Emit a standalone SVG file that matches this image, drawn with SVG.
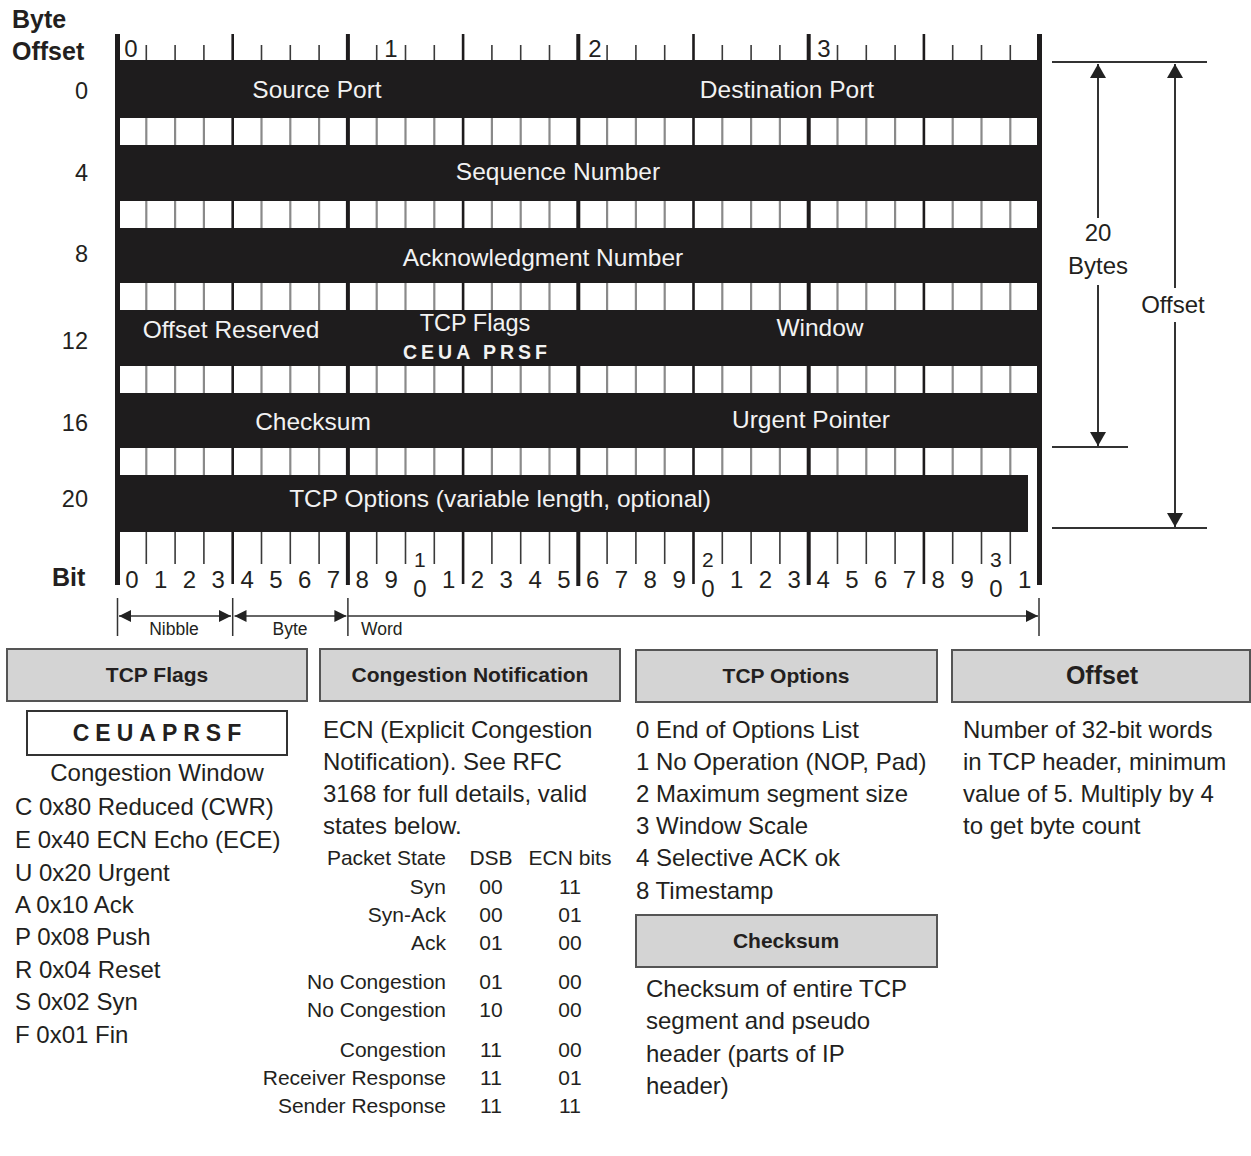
<svg xmlns="http://www.w3.org/2000/svg" width="1251" height="1156" viewBox="0 0 1251 1156">
<defs>
<style>
text{font-family:"Liberation Sans",Arial,sans-serif;fill:#231f20}
.b{font-weight:bold}
.lbl{font-size:24px}
.bl{font-size:25px;font-weight:bold}
.w{fill:#f2f2f2;font-size:24.5px;text-anchor:middle}
.dig{font-size:24px;text-anchor:middle}
.off{font-size:23.5px;text-anchor:end}
.hdr{fill:#d4d4d4;stroke:#555;stroke-width:2}
.ht{font-size:21px;font-weight:bold;text-anchor:middle}
.body{font-size:24px}
.tb{font-size:21px}
.mid{text-anchor:middle}
.end{text-anchor:end}
.blk{fill:#1e1c1d}
.tbit{stroke:#3a3a3a;stroke-width:1.6;fill:none}
.tnib{stroke:#1e1c1d;stroke-width:2.6;fill:none}
.tbyte{stroke:#1e1c1d;stroke-width:4;fill:none}
.dbit{stroke:#8a8a8a;stroke-width:2.2;fill:none}
.dim{stroke:#333;stroke-width:2;fill:none}
.dims{stroke:#333;stroke-width:1.5;fill:none}
</style>
<marker id="ahv" viewBox="0 0 14 16" refX="14" refY="8" markerWidth="14" markerHeight="16" markerUnits="userSpaceOnUse" orient="auto"><path d="M0,0L14,8L0,16z" fill="#222"/></marker>
<marker id="ahs" viewBox="0 0 12 12" refX="12" refY="6" markerWidth="12" markerHeight="12" markerUnits="userSpaceOnUse" orient="auto"><path d="M0,0L12,6L0,12z" fill="#222"/></marker>
</defs>
<rect width="1251" height="1156" fill="#fff"/>

<g id="axis-labels">
<text x="12" y="28" class="bl">Byte</text>
<text x="12" y="60" class="bl">Offset</text>
<text x="88" y="99" class="off">0</text>
<text x="88" y="181" class="off">4</text>
<text x="88" y="262" class="off">8</text>
<text x="88" y="349" class="off">12</text>
<text x="88" y="431" class="off">16</text>
<text x="88" y="507" class="off">20</text>
<text x="52" y="586" class="bl">Bit</text>
</g>

<g id="header-grid">
<rect x="117.5" y="118" width="921.6" height="357" fill="#fff"/>
<path class="dbit" d="M146.3 118V475M175.1 118V475M203.9 118V475M261.5 118V475M290.3 118V475M319.1 118V475M376.7 118V475M405.5 118V475M434.3 118V475M491.9 118V475M520.7 118V475M549.5 118V475M607.1 118V475M635.9 118V475M664.7 118V475M722.3 118V475M751.1 118V475M779.9 118V475M837.5 118V475M866.3 118V475M895.1 118V475M952.7 118V475M981.5 118V475M1010.3 118V475"/>
<path class="tnib" d="M232.7 118V475M463.1 118V475M693.5 118V475M923.9 118V475"/>
<path class="tbyte" d="M347.9 118V475M578.3 118V475M808.7 118V475"/>
<rect class="blk" x="117.5" y="60" width="921.6" height="58"/>
<rect class="blk" x="117.5" y="145" width="921.6" height="56"/>
<rect class="blk" x="117.5" y="228" width="921.6" height="55"/>
<rect class="blk" x="117.5" y="310" width="921.6" height="56"/>
<rect class="blk" x="117.5" y="393" width="921.6" height="55"/>
<rect class="blk" x="117.5" y="475" width="910.5" height="57"/>
</g>

<g id="ruler-top">
<path class="tbit" d="M146.3 45V60M175.1 45V60M203.9 45V60M261.5 45V60M290.3 45V60M319.1 45V60M376.7 45V60M405.5 45V60M434.3 45V60M491.9 45V60M520.7 45V60M549.5 45V60M607.1 45V60M635.9 45V60M664.7 45V60M722.3 45V60M751.1 45V60M779.9 45V60M837.5 45V60M866.3 45V60M895.1 45V60M952.7 45V60M981.5 45V60M1010.3 45V60"/>
<path class="tnib" d="M232.7 34V60M463.1 34V60M693.5 34V60M923.9 34V60"/>
<path class="tbyte" d="M347.9 34V60M578.3 34V60M808.7 34V60"/>
<text x="131" y="57" class="dig">0</text>
<text x="391" y="57" class="dig">1</text>
<text x="595" y="57" class="dig">2</text>
<text x="824" y="57" class="dig">3</text>
</g>

<g id="ruler-bottom">
<path class="tbit" d="M146.3 532V564M175.1 532V564M203.9 532V564M261.5 532V564M290.3 532V564M319.1 532V564M376.7 532V564M405.5 532V564M434.3 532V564M491.9 532V564M520.7 532V564M549.5 532V564M607.1 532V564M635.9 532V564M664.7 532V564M722.3 532V564M751.1 532V564M779.9 532V564M837.5 532V564M866.3 532V564M895.1 532V564M952.7 532V564M981.5 532V564M1010.3 532V564"/>
<path class="tnib" d="M232.7 532V584M463.1 532V584M693.5 532V584M923.9 532V584"/>
<path class="tbyte" d="M347.9 532V585M578.3 532V586M808.7 532V585"/>
<text x="131.9" y="588" class="dig">0</text>
<text x="160.7" y="588" class="dig">1</text>
<text x="189.5" y="588" class="dig">2</text>
<text x="218.3" y="588" class="dig">3</text>
<text x="247.1" y="588" class="dig">4</text>
<text x="275.9" y="588" class="dig">5</text>
<text x="304.7" y="588" class="dig">6</text>
<text x="333.5" y="588" class="dig">7</text>
<text x="362.3" y="588" class="dig">8</text>
<text x="391.1" y="588" class="dig">9</text>
<text x="419.9" y="567" class="dig" style="font-size:21px">1</text>
<text x="419.9" y="597" class="dig">0</text>
<text x="448.7" y="588" class="dig">1</text>
<text x="477.5" y="588" class="dig">2</text>
<text x="506.3" y="588" class="dig">3</text>
<text x="535.1" y="588" class="dig">4</text>
<text x="563.9" y="588" class="dig">5</text>
<text x="592.7" y="588" class="dig">6</text>
<text x="621.5" y="588" class="dig">7</text>
<text x="650.3" y="588" class="dig">8</text>
<text x="679.1" y="588" class="dig">9</text>
<text x="707.9" y="567" class="dig" style="font-size:21px">2</text>
<text x="707.9" y="597" class="dig">0</text>
<text x="736.7" y="588" class="dig">1</text>
<text x="765.5" y="588" class="dig">2</text>
<text x="794.3" y="588" class="dig">3</text>
<text x="823.1" y="588" class="dig">4</text>
<text x="851.9" y="588" class="dig">5</text>
<text x="880.7" y="588" class="dig">6</text>
<text x="909.5" y="588" class="dig">7</text>
<text x="938.3" y="588" class="dig">8</text>
<text x="967.1" y="588" class="dig">9</text>
<text x="995.9" y="567" class="dig" style="font-size:21px">3</text>
<text x="995.9" y="597" class="dig">0</text>
<text x="1024.7" y="588" class="dig">1</text>
</g>

<g id="frame-bars">
<rect class="blk" x="115" y="34" width="5" height="551"/>
<rect class="blk" x="1037" y="34" width="5" height="551"/>
</g>

<g id="field-source-port"><text x="317" y="98" class="w">Source Port</text></g>
<g id="field-destination-port"><text x="787" y="98" class="w">Destination Port</text></g>
<g id="field-sequence"><text x="558" y="180" class="w">Sequence Number</text></g>
<g id="field-ack"><text x="543" y="266" class="w">Acknowledgment Number</text></g>
<g id="field-offset-reserved"><text x="231" y="338" class="w">Offset Reserved</text></g>
<g id="field-tcp-flags">
<text x="475" y="331" class="w" style="font-size:23.5px">TCP Flags</text>
<text x="477" y="359" class="w b" style="font-size:19.5px;letter-spacing:4px">CEUA PRSF</text>
</g>
<g id="field-window"><text x="820" y="336" class="w">Window</text></g>
<g id="field-checksum"><text x="313" y="430" class="w">Checksum</text></g>
<g id="field-urgent"><text x="811" y="428" class="w">Urgent Pointer</text></g>
<g id="field-options"><text x="500" y="507" class="w">TCP Options (variable length, optional)</text></g>

<g id="connectors">
<path class="dim" d="M1052 62H1207M1052 447H1128M1052 528H1207"/>
<path class="dim" d="M1098 218V64" marker-end="url(#ahv)"/>
<path class="dim" d="M1098 285V446" marker-end="url(#ahv)"/>
<path class="dim" d="M1175 288V64" marker-end="url(#ahv)"/>
<path class="dim" d="M1175 322V527" marker-end="url(#ahv)"/>
<path class="dims" d="M117.5 598V636M232.7 598V636M347.9 598V636M1039 598V636"/>
<path class="dims" d="M175 616H119" marker-end="url(#ahs)"/>
<path class="dims" d="M175 616H231" marker-end="url(#ahs)"/>
<path class="dims" d="M290 616H234.5" marker-end="url(#ahs)"/>
<path class="dims" d="M290 616H346.4" marker-end="url(#ahs)"/>
<path class="dims" d="M347.9 616H1038" marker-end="url(#ahs)"/>
</g>

<g id="dim-labels">
<text x="1098" y="241" class="lbl mid">20</text>
<text x="1098" y="274" class="lbl mid">Bytes</text>
<text x="1173" y="313" class="lbl mid">Offset</text>
<text x="174" y="635" class="mid" style="font-size:17.5px">Nibble</text>
<text x="290" y="635" class="mid" style="font-size:17.5px">Byte</text>
<text x="361" y="635" style="font-size:17.5px">Word</text>
</g>

<g id="panel-tcp-flags">
<rect class="hdr" x="7" y="649" width="300" height="52"/>
<text x="157" y="682" class="ht">TCP Flags</text>
<rect x="27" y="711" width="260" height="44" fill="#fff" stroke="#333" stroke-width="2"/>
<text x="160" y="741" class="b mid" style="font-size:23px;letter-spacing:6px">CEUAPRSF</text>
<text x="157" y="781" class="body mid">Congestion Window</text>
<text x="15" y="815" class="body">C 0x80 Reduced (CWR)</text>
<text x="15" y="848" class="body">E 0x40 ECN Echo (ECE)</text>
<text x="15" y="881" class="body">U 0x20 Urgent</text>
<text x="15" y="913" class="body">A 0x10 Ack</text>
<text x="15" y="945" class="body">P 0x08 Push</text>
<text x="15" y="978" class="body">R 0x04 Reset</text>
<text x="15" y="1010" class="body">S 0x02 Syn</text>
<text x="15" y="1043" class="body">F 0x01 Fin</text>
</g>

<g id="panel-congestion">
<rect class="hdr" x="320" y="649" width="300" height="52"/>
<text x="470" y="682" class="ht">Congestion Notification</text>
<text x="323" y="738" class="body">ECN (Explicit Congestion</text>
<text x="323" y="770" class="body">Notification). See RFC</text>
<text x="323" y="802" class="body">3168 for full details, valid</text>
<text x="323" y="834" class="body">states below.</text>
<g class="tb">
<text x="446" y="865" class="tb end">Packet State</text>
<text x="491" y="865" class="tb mid">DSB</text>
<text x="570" y="865" class="tb mid">ECN bits</text>
<text x="446" y="894" class="tb end">Syn</text><text x="491" y="894" class="tb mid">00</text><text x="570" y="894" class="tb mid">11</text>
<text x="446" y="922" class="tb end">Syn-Ack</text><text x="491" y="922" class="tb mid">00</text><text x="570" y="922" class="tb mid">01</text>
<text x="446" y="950" class="tb end">Ack</text><text x="491" y="950" class="tb mid">01</text><text x="570" y="950" class="tb mid">00</text>
<text x="446" y="989" class="tb end">No Congestion</text><text x="491" y="989" class="tb mid">01</text><text x="570" y="989" class="tb mid">00</text>
<text x="446" y="1017" class="tb end">No Congestion</text><text x="491" y="1017" class="tb mid">10</text><text x="570" y="1017" class="tb mid">00</text>
<text x="446" y="1057" class="tb end">Congestion</text><text x="491" y="1057" class="tb mid">11</text><text x="570" y="1057" class="tb mid">00</text>
<text x="446" y="1085" class="tb end">Receiver Response</text><text x="491" y="1085" class="tb mid">11</text><text x="570" y="1085" class="tb mid">01</text>
<text x="446" y="1113" class="tb end">Sender Response</text><text x="491" y="1113" class="tb mid">11</text><text x="570" y="1113" class="tb mid">11</text>
</g>
</g>

<g id="panel-tcp-options">
<rect class="hdr" x="636" y="650" width="301" height="52"/>
<text x="786" y="683" class="ht">TCP Options</text>
<text x="636" y="738" class="body">0 End of Options List</text>
<text x="636" y="770" class="body">1 No Operation (NOP, Pad)</text>
<text x="636" y="802" class="body">2 Maximum segment size</text>
<text x="636" y="834" class="body">3 Window Scale</text>
<text x="636" y="866" class="body">4 Selective ACK ok</text>
<text x="636" y="899" class="body">8 Timestamp</text>
</g>

<g id="panel-checksum">
<rect class="hdr" x="636" y="915" width="301" height="52"/>
<text x="786" y="948" class="ht">Checksum</text>
<text x="646" y="997" class="body">Checksum of entire TCP</text>
<text x="646" y="1029" class="body">segment and pseudo</text>
<text x="646" y="1062" class="body">header (parts of IP</text>
<text x="646" y="1094" class="body">header)</text>
</g>

<g id="panel-offset">
<rect class="hdr" x="952" y="650" width="298" height="52"/>
<text x="1102" y="684" class="ht" style="font-size:25px">Offset</text>
<text x="963" y="738" class="body">Number of 32-bit words</text>
<text x="963" y="770" class="body">in TCP header, minimum</text>
<text x="963" y="802" class="body">value of 5. Multiply by 4</text>
<text x="963" y="834" class="body">to get byte count</text>
</g>
</svg>
